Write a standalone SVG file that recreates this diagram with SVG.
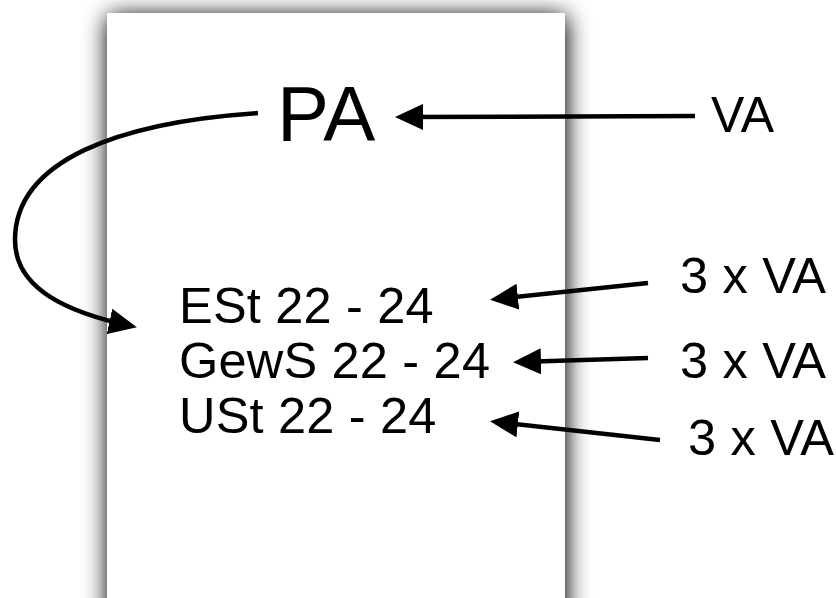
<svg xmlns="http://www.w3.org/2000/svg" width="836" height="598" viewBox="0 0 836 598">
  <style>
    .t { font-family: "Liberation Sans", Arial, Helvetica, sans-serif; fill: #000; }
    .big { font-size: 78px; }
    .mid { font-size: 50px; }
    .row { font-size: 50.5px; letter-spacing: 0.2px; }
    .conn { fill: none; stroke: #000; stroke-width: 4.5; marker-end: url(#head); }
  </style>
  <defs>
    <filter id="pageShadow" x="-25%" y="-25%" width="150%" height="150%">
      <feGaussianBlur in="SourceAlpha" stdDeviation="12" result="blur"/>
      <feOffset in="blur" dx="1" dy="3" result="off"/>
      <feComponentTransfer in="off" result="shade">
        <feFuncA type="linear" slope="1.1"/>
      </feComponentTransfer>
      <feMerge>
        <feMergeNode in="shade"/>
        <feMergeNode in="SourceGraphic"/>
      </feMerge>
    </filter>
    <marker id="head" markerUnits="userSpaceOnUse" markerWidth="28" markerHeight="26" viewBox="0 0 28 26" refX="22" refY="13" orient="auto">
      <path d="M0,0 L28,13 L0,26 Z" fill="#000"/>
    </marker>
  </defs>

  <rect width="836" height="598" fill="#fff"/>

  <!-- sheet of paper -->
  <g id="page">
    <rect x="107" y="13" width="458" height="640" fill="#fff" filter="url(#pageShadow)"/>
  </g>

  <!-- labels -->
  <g id="pa"><text class="t big" x="277" y="141">PA</text></g>
  <g id="va"><text class="t mid" x="711" y="132">VA</text></g>
  <g id="est"><text class="t row" x="179" y="323">ESt 22 - 24</text></g>
  <g id="gews"><text class="t row" x="179" y="378">GewS 22 - 24</text></g>
  <g id="ust"><text class="t row" x="179" y="433">USt 22 - 24</text></g>
  <g id="va3a"><text class="t row" x="680" y="293">3 x VA</text></g>
  <g id="va3b"><text class="t row" x="680" y="378">3 x VA</text></g>
  <g id="va3c"><text class="t row" x="688" y="455">3 x VA</text></g>

  <!-- connectors -->
  <g id="connectors">
    <path class="conn" d="M695,116 L401,117"/>
    <path class="conn" d="M258,113 C120,122 15,160 15,240 C15,290 70,313 131,326"/>
    <path class="conn" d="M648,283 L496,299"/>
    <path class="conn" d="M648,358 L519,362"/>
    <path class="conn" d="M660,440 L496,422"/>
  </g>
</svg>
